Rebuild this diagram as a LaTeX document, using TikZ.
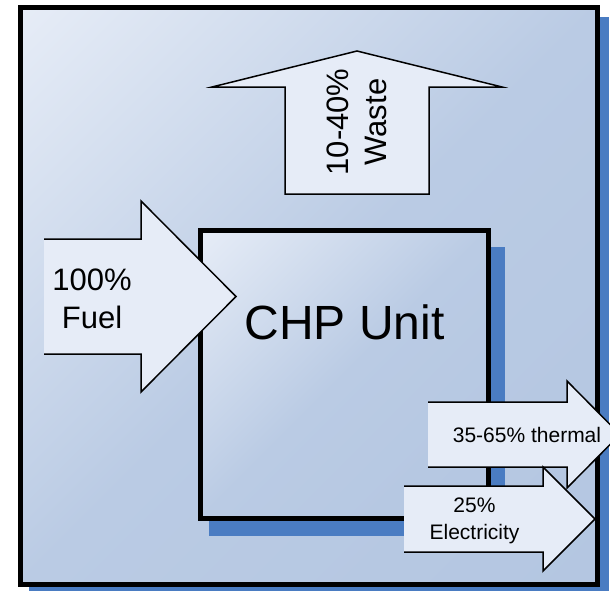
\documentclass[tikz,border=0pt]{standalone}
\usepackage{fontspec}
\setmainfont{Liberation Sans}
\definecolor{shadowblue}{HTML}{4A7CC2}
\definecolor{boxlight}{HTML}{E7EDF7}
\definecolor{boxmid}{HTML}{BACBE4}
\definecolor{boxdark}{HTML}{B1C4E0}
\definecolor{arrowbg}{HTML}{E6ECF7}
\pgfdeclareverticalshading{diaggrad}{100bp}{color(0bp)=(boxdark); color(50bp)=(boxmid); color(86bp)=(boxlight); color(100bp)=(boxlight)}
\begin{document}
\begin{tikzpicture}[x=1pt,y=-1pt,
  shadowfill/.style={fill=shadowblue,draw=none},
  boxline/.style={draw=black,line width=5pt,shade,shading=diaggrad,shading angle=45},
  arrowfill/.style={fill=arrowbg,draw=none},
  arrowline/.style={draw=black,line width=1.5pt,line join=miter},
  bigtxt/.style={font=\fontsize{48}{58}\selectfont,inner sep=0pt},
  midtxt/.style={font=\fontsize{31}{38}\selectfont,align=center,inner sep=0pt},
  smalltxt/.style={font=\fontsize{21}{27}\selectfont,align=center,inner sep=0pt}]
\useasboundingbox (0,0) rectangle (610,590);
\clip (0,0) rectangle (610,590);
\fill[white] (0,0) rectangle (610,590);
% outer box with shadow
\path[shadowfill] (29,17) rectangle (609,597);
\path[boxline] (20.5,7.5) rectangle (597,584.5);
% inner CHP box with shadow
\path[shadowfill] (209,247) rectangle (505,536);
\path[boxline] (200.5,230.5) rectangle (488.5,518);
\node[bigtxt] (chp) at (344.5,322) {CHP Unit};
% waste arrow
\path[arrowfill,arrowline] (285,194) -- (285,87) -- (212,87) -- (357,51) -- (502,87) -- (429,87) -- (429,194) -- cycle;
\node[midtxt,rotate=90] (waste) at (357,122) {10-40\%\\Waste};
% fuel arrow
\path[arrowfill] (44,239) -- (141,239) -- (141,201) -- (236,296.5) -- (141,392) -- (141,354) -- (44,354) -- cycle;
\draw[arrowline] (44,239) -- (141,239) -- (141,201) -- (236,296.5) -- (141,392) -- (141,354) -- (44,354);
\node[midtxt] (fuel) at (92,299) {100\%\\Fuel};
% thermal arrow
\path[arrowfill] (428,402) -- (567,402) -- (567,381) -- (620,434.5) -- (567,488) -- (567,467) -- (428,467) -- cycle;
\draw[arrowline] (428,402) -- (567,402) -- (567,381) -- (620,434.5) -- (567,488) -- (567,467) -- (428,467);
\node[smalltxt] (thermal) at (527,435) {35-65\% thermal};
% electricity arrow
\path[arrowfill] (404,486) -- (543,486) -- (543,467) -- (595,519) -- (543,571) -- (543,552) -- (404,552) -- cycle;
\draw[arrowline] (404,486) -- (543,486) -- (543,467) -- (595,519) -- (543,571) -- (543,552) -- (404,552);
\node[smalltxt] (elec) at (474.5,521) {25\%\\Electricity};
\end{tikzpicture}
\end{document}
